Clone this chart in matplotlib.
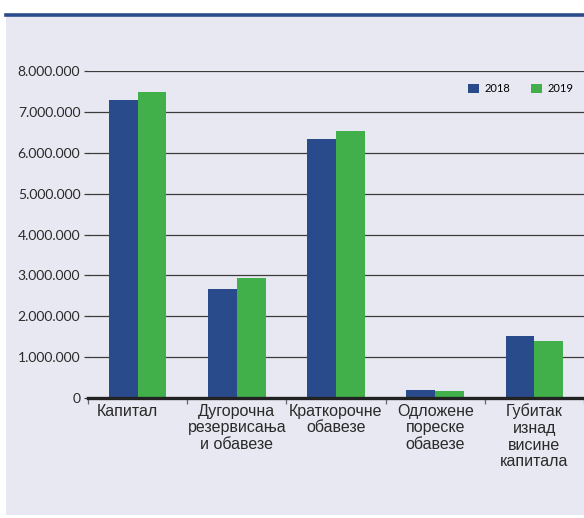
import numpy as np
import matplotlib
matplotlib.use("Agg")
import matplotlib.pyplot as plt
import matplotlib.transforms as mtransforms
from matplotlib.patches import Rectangle
from matplotlib.ticker import FuncFormatter

categories = ["Капитал", "Дугорочна\nрезервисања\nи обавезе", "Краткорочне\nобавезе",
              "Одложене\nпореске\nобавезе", "Губитак\nизнад\nвисине\nкапитала"]
values_2018 = [7290000, 2660000, 6330000, 200000, 1510000]
values_2019 = [7480000, 2940000, 6520000, 170000, 1390000]
series_labels = ["2018", "2019"]
yticks = [0, 1000000, 2000000, 3000000, 4000000, 5000000, 6000000, 7000000, 8000000]

blue = "#2a4b8b"
green = "#41b04a"
panel = "#e7e8f1"

fig = plt.figure(figsize=(5.84, 5.18), dpi=100)
fig.patch.set_facecolor("white")

# grey panel and dark blue top rule
fig.patches.append(Rectangle((6 / 584, 3 / 518), 1 - 6 / 584, (515 - 16) / 518,
                             transform=fig.transFigure, facecolor=panel,
                             edgecolor="none", zorder=-5))
fig.add_artist(plt.Line2D([6 / 584, 1], [1 - 15 / 518, 1 - 15 / 518],
                          transform=fig.transFigure, color=blue, lw=2.6, zorder=-4))

ax = fig.add_axes([88 / 584, 1 - 398 / 518, 1 - 88 / 584, (398 - 71) / 518])
ax.set_facecolor("none")

x = np.arange(len(categories))
w = 0.29
ax.bar(x - w / 2, values_2018, width=w, color=blue, label=series_labels[0], zorder=3)
ax.bar(x + w / 2, values_2019, width=w, color=green, label=series_labels[1], zorder=3)

ax.set_xlim(-0.5, len(categories) - 0.5)
ax.set_ylim(0, 8000000)
ax.set_yticks(yticks)
ax.yaxis.set_major_formatter(FuncFormatter(lambda v, p: f"{int(v):,}".replace(",", ".")))
ax.grid(axis="y", color="#3c3c3c", lw=0.9, zorder=1)
ax.set_axisbelow(True)

for s in ["top", "right", "left"]:
    ax.spines[s].set_visible(False)
ax.spines["bottom"].set_color("#222222")
ax.spines["bottom"].set_linewidth(2.4)
ax.spines["bottom"].set_zorder(4)

ax.tick_params(axis="y", length=3, width=0.9, color="#3c3c3c", pad=2.5,
               labelsize=10, labelcolor="#2a2a2a")
for t in ax.get_yticklabels():
    t.set_family(["Lato", "DejaVu Sans"])

ax.set_xticks(x)
ax.set_xticklabels(categories, family=["Liberation Sans", "DejaVu Sans"], fontsize=11.5,
                   color="#2a2a2a", linespacing=1.13)
ax.tick_params(axis="x", which="major", length=0, pad=4)
ax.set_xticks(np.arange(len(categories) + 1) - 0.5, minor=True)
ax.tick_params(axis="x", which="minor", length=4, width=0.9, color="#666666")

# first label sits a little left of its bars
lbl = ax.get_xticklabels()[0]
lbl.set_transform(lbl.get_transform() + mtransforms.ScaledTranslation(-10 / 100, 0, fig.dpi_scale_trans))

leg = ax.legend(loc="upper right", bbox_to_anchor=(1.0, 0.993), ncol=2, frameon=False,
                handlelength=1.0, handleheight=1.0, handletextpad=0.5, columnspacing=1.9,
                prop={"family": ["Lato", "DejaVu Sans"], "size": 8})

fig.savefig("out.png", dpi=100)
